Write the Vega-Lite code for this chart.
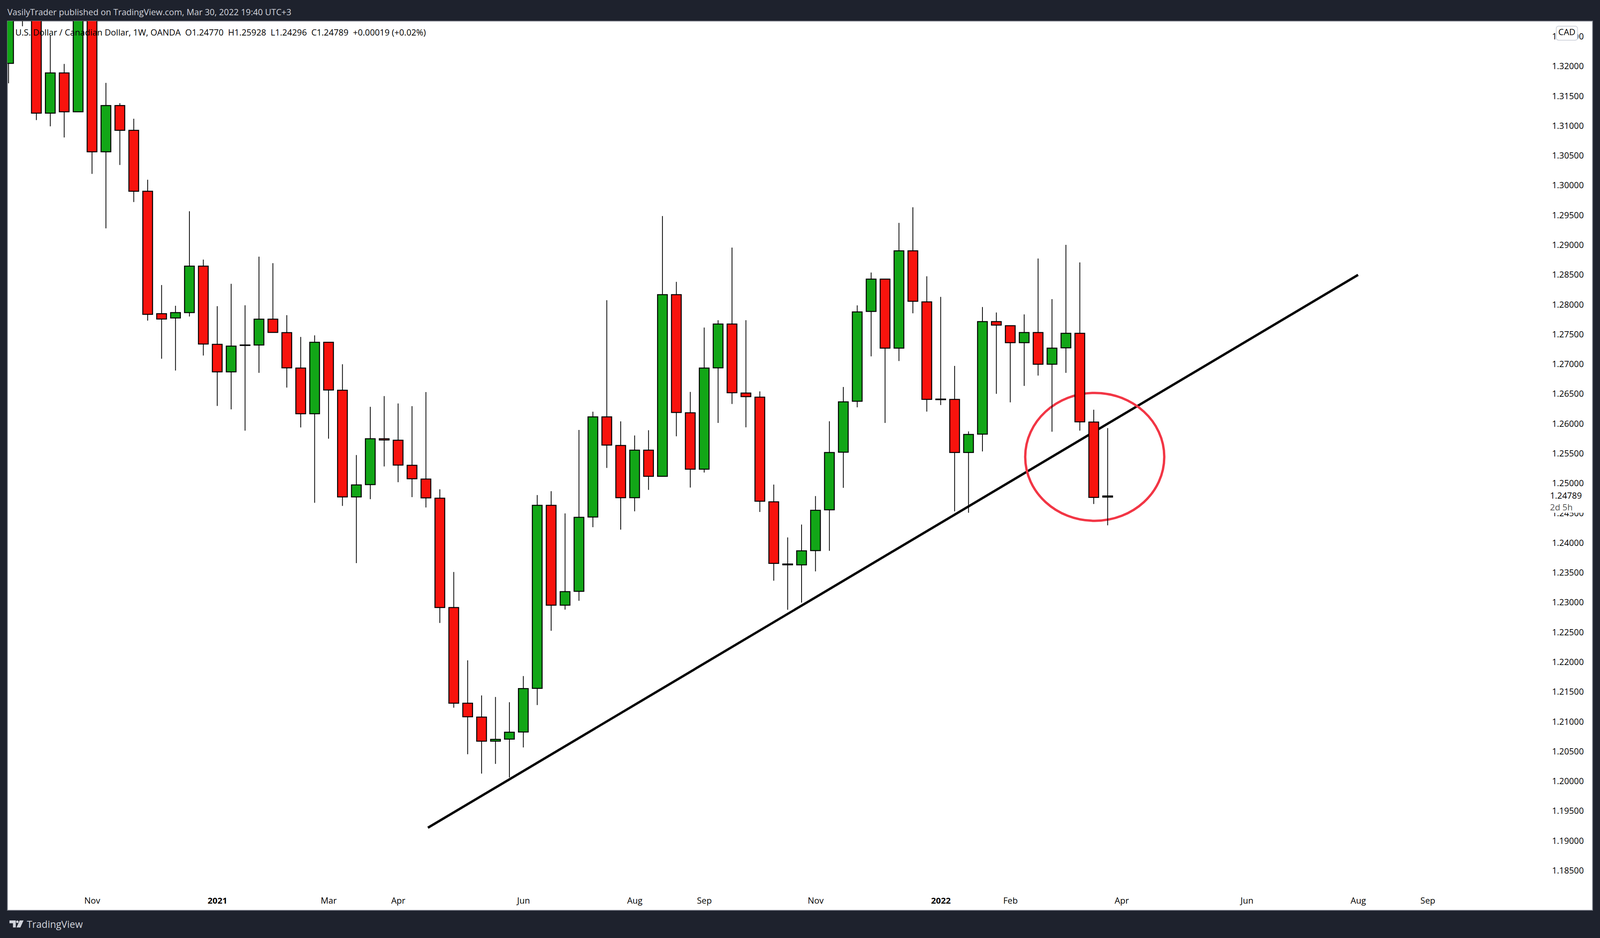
{
  "$schema": "https://vega.github.io/schema/vega-lite/v6.json",
  "description": "USD/CAD weekly candles with trend line",
  "width": 4058,
  "height": 2277,
  "autosize": "none",
  "padding": {"left": 19, "top": 54, "right": 231, "bottom": 71},
  "background": "#1e222d",
  "view": {"fill": "#ffffff", "stroke": "#7d808a", "strokeWidth": 2},
  "title": {
    "text": "VasilyTrader published on TradingView.com, Mar 30, 2022 19:40 UTC+3",
    "anchor": "start",
    "frame": "group",
    "font": "Open Sans",
    "fontSize": 22,
    "fontWeight": "normal",
    "color": "#d1d4dc",
    "offset": 10
  },
  "datasets": {
    "candles": [
      {"date": "2020-09-21", "open": 1.3205, "high": 1.336, "low": 1.31715, "close": 1.3345, "dir": "up"},
      {"date": "2020-09-28", "open": 1.3345, "high": 1.336, "low": 1.32672, "close": 1.3285, "dir": "down"},
      {"date": "2020-10-05", "open": 1.33, "high": 1.332, "low": 1.31097, "close": 1.31214, "dir": "down"},
      {"date": "2020-10-12", "open": 1.31214, "high": 1.32518, "low": 1.30993, "close": 1.31889, "dir": "up"},
      {"date": "2020-10-19", "open": 1.31889, "high": 1.3204, "low": 1.30806, "close": 1.31237, "dir": "down"},
      {"date": "2020-10-26", "open": 1.31237, "high": 1.336, "low": 1.31237, "close": 1.335, "dir": "up"},
      {"date": "2020-11-02", "open": 1.335, "high": 1.336, "low": 1.30194, "close": 1.30565, "dir": "down"},
      {"date": "2020-11-09", "open": 1.30565, "high": 1.31722, "low": 1.29281, "close": 1.31341, "dir": "up"},
      {"date": "2020-11-16", "open": 1.31341, "high": 1.31381, "low": 1.30344, "close": 1.30926, "dir": "down"},
      {"date": "2020-11-23", "open": 1.30926, "high": 1.3112, "low": 1.29722, "close": 1.29903, "dir": "down"},
      {"date": "2020-11-30", "open": 1.29903, "high": 1.30097, "low": 1.27732, "close": 1.27837, "dir": "down"},
      {"date": "2020-12-07", "open": 1.27848, "high": 1.28329, "low": 1.27092, "close": 1.27758, "dir": "down"},
      {"date": "2020-12-14", "open": 1.27776, "high": 1.27981, "low": 1.26894, "close": 1.27866, "dir": "up"},
      {"date": "2020-12-21", "open": 1.27866, "high": 1.29567, "low": 1.278, "close": 1.28647, "dir": "up"},
      {"date": "2020-12-28", "open": 1.28647, "high": 1.28756, "low": 1.27146, "close": 1.27338, "dir": "down"},
      {"date": "2021-01-04", "open": 1.27334, "high": 1.27974, "low": 1.263, "close": 1.26872, "dir": "down"},
      {"date": "2021-01-11", "open": 1.26872, "high": 1.2835, "low": 1.26243, "close": 1.27304, "dir": "up"},
      {"date": "2021-01-18", "open": 1.27323, "high": 1.27989, "low": 1.25886, "close": 1.27315, "dir": "down"},
      {"date": "2021-01-25", "open": 1.27323, "high": 1.28805, "low": 1.26856, "close": 1.27756, "dir": "up"},
      {"date": "2021-02-01", "open": 1.27756, "high": 1.28696, "low": 1.27534, "close": 1.27534, "dir": "down"},
      {"date": "2021-02-08", "open": 1.2753, "high": 1.27823, "low": 1.26608, "close": 1.26939, "dir": "down"},
      {"date": "2021-02-15", "open": 1.26935, "high": 1.27458, "low": 1.25939, "close": 1.26168, "dir": "down"},
      {"date": "2021-02-22", "open": 1.26168, "high": 1.27485, "low": 1.24674, "close": 1.27368, "dir": "up"},
      {"date": "2021-03-01", "open": 1.27368, "high": 1.27368, "low": 1.2575, "close": 1.26567, "dir": "down"},
      {"date": "2021-03-08", "open": 1.26563, "high": 1.27, "low": 1.24622, "close": 1.24772, "dir": "down"},
      {"date": "2021-03-15", "open": 1.24772, "high": 1.25476, "low": 1.23662, "close": 1.24975, "dir": "up"},
      {"date": "2021-03-22", "open": 1.24979, "high": 1.26285, "low": 1.24735, "close": 1.2575, "dir": "up"},
      {"date": "2021-03-29", "open": 1.2575, "high": 1.26465, "low": 1.25284, "close": 1.25728, "dir": "down"},
      {"date": "2021-04-05", "open": 1.25724, "high": 1.26341, "low": 1.2502, "close": 1.25307, "dir": "down"},
      {"date": "2021-04-12", "open": 1.25303, "high": 1.26296, "low": 1.24769, "close": 1.25077, "dir": "down"},
      {"date": "2021-04-19", "open": 1.25073, "high": 1.26533, "low": 1.24596, "close": 1.24757, "dir": "down"},
      {"date": "2021-04-26", "open": 1.24751, "high": 1.249, "low": 1.22657, "close": 1.22916, "dir": "down"},
      {"date": "2021-05-03", "open": 1.22916, "high": 1.23513, "low": 1.21235, "close": 1.2131, "dir": "down"},
      {"date": "2021-05-10", "open": 1.2131, "high": 1.2203, "low": 1.20454, "close": 1.21082, "dir": "down"},
      {"date": "2021-05-17", "open": 1.21077, "high": 1.21441, "low": 1.20129, "close": 1.20673, "dir": "down"},
      {"date": "2021-05-24", "open": 1.20673, "high": 1.21415, "low": 1.20292, "close": 1.20704, "dir": "up"},
      {"date": "2021-05-31", "open": 1.20708, "high": 1.21327, "low": 1.20063, "close": 1.20823, "dir": "up"},
      {"date": "2021-06-07", "open": 1.20827, "high": 1.21766, "low": 1.20568, "close": 1.21556, "dir": "up"},
      {"date": "2021-06-14", "open": 1.2156, "high": 1.24803, "low": 1.21279, "close": 1.24632, "dir": "up"},
      {"date": "2021-06-21", "open": 1.24632, "high": 1.24869, "low": 1.22526, "close": 1.22956, "dir": "down"},
      {"date": "2021-06-28", "open": 1.22956, "high": 1.24496, "low": 1.22881, "close": 1.23184, "dir": "up"},
      {"date": "2021-07-05", "open": 1.23188, "high": 1.25896, "low": 1.2303, "close": 1.2443, "dir": "up"},
      {"date": "2021-07-12", "open": 1.24435, "high": 1.26203, "low": 1.24264, "close": 1.26116, "dir": "up"},
      {"date": "2021-07-19", "open": 1.26116, "high": 1.28075, "low": 1.2526, "close": 1.25642, "dir": "down"},
      {"date": "2021-07-26", "open": 1.25637, "high": 1.26041, "low": 1.24224, "close": 1.24759, "dir": "down"},
      {"date": "2021-08-02", "open": 1.24759, "high": 1.25804, "low": 1.24531, "close": 1.25558, "dir": "up"},
      {"date": "2021-08-09", "open": 1.25558, "high": 1.25892, "low": 1.24891, "close": 1.25119, "dir": "down"},
      {"date": "2021-08-16", "open": 1.25118, "high": 1.29487, "low": 1.25118, "close": 1.28167, "dir": "up"},
      {"date": "2021-08-23", "open": 1.28167, "high": 1.28383, "low": 1.2579, "close": 1.2619, "dir": "down"},
      {"date": "2021-08-30", "open": 1.26185, "high": 1.26535, "low": 1.2493, "close": 1.25238, "dir": "down"},
      {"date": "2021-09-06", "open": 1.25238, "high": 1.27615, "low": 1.25183, "close": 1.26935, "dir": "up"},
      {"date": "2021-09-13", "open": 1.26939, "high": 1.27739, "low": 1.26015, "close": 1.27675, "dir": "up"},
      {"date": "2021-09-20", "open": 1.27675, "high": 1.28958, "low": 1.26332, "close": 1.26521, "dir": "down"},
      {"date": "2021-09-27", "open": 1.26516, "high": 1.27739, "low": 1.25941, "close": 1.26456, "dir": "down"},
      {"date": "2021-10-04", "open": 1.26447, "high": 1.26544, "low": 1.24521, "close": 1.247, "dir": "down"},
      {"date": "2021-10-11", "open": 1.24691, "high": 1.2498, "low": 1.23367, "close": 1.23656, "dir": "down"},
      {"date": "2021-10-18", "open": 1.23647, "high": 1.24093, "low": 1.22879, "close": 1.23633, "dir": "down"},
      {"date": "2021-10-25", "open": 1.23633, "high": 1.24309, "low": 1.22999, "close": 1.23868, "dir": "up"},
      {"date": "2021-11-01", "open": 1.23872, "high": 1.24787, "low": 1.23523, "close": 1.24548, "dir": "up"},
      {"date": "2021-11-08", "open": 1.24557, "high": 1.26043, "low": 1.23868, "close": 1.25518, "dir": "up"},
      {"date": "2021-11-15", "open": 1.25523, "high": 1.26617, "low": 1.24925, "close": 1.26369, "dir": "up"},
      {"date": "2021-11-22", "open": 1.26378, "high": 1.27988, "low": 1.26277, "close": 1.27877, "dir": "up"},
      {"date": "2021-11-29", "open": 1.27886, "high": 1.28539, "low": 1.27132, "close": 1.28429, "dir": "up"},
      {"date": "2021-12-06", "open": 1.28429, "high": 1.28429, "low": 1.26015, "close": 1.2727, "dir": "down"},
      {"date": "2021-12-13", "open": 1.2727, "high": 1.29372, "low": 1.27054, "close": 1.28903, "dir": "up"},
      {"date": "2021-12-20", "open": 1.28903, "high": 1.29634, "low": 1.27854, "close": 1.28057, "dir": "down"},
      {"date": "2021-12-27", "open": 1.28047, "high": 1.28475, "low": 1.26204, "close": 1.2641, "dir": "down"},
      {"date": "2022-01-03", "open": 1.26415, "high": 1.2813, "low": 1.26314, "close": 1.26405, "dir": "down"},
      {"date": "2022-01-10", "open": 1.2641, "high": 1.26971, "low": 1.2453, "close": 1.25518, "dir": "down"},
      {"date": "2022-01-17", "open": 1.25518, "high": 1.25872, "low": 1.24507, "close": 1.25822, "dir": "up"},
      {"date": "2022-01-24", "open": 1.25827, "high": 1.2796, "low": 1.25537, "close": 1.27716, "dir": "up"},
      {"date": "2022-01-31", "open": 1.27716, "high": 1.27868, "low": 1.26503, "close": 1.27657, "dir": "down"},
      {"date": "2022-02-07", "open": 1.27647, "high": 1.27647, "low": 1.2636, "close": 1.27362, "dir": "down"},
      {"date": "2022-02-14", "open": 1.27362, "high": 1.27836, "low": 1.26636, "close": 1.27532, "dir": "up"},
      {"date": "2022-02-21", "open": 1.27532, "high": 1.28774, "low": 1.2681, "close": 1.26999, "dir": "down"},
      {"date": "2022-02-28", "open": 1.26999, "high": 1.28093, "low": 1.25868, "close": 1.2727, "dir": "up"},
      {"date": "2022-03-07", "open": 1.27275, "high": 1.29004, "low": 1.26856, "close": 1.27519, "dir": "up"},
      {"date": "2022-03-14", "open": 1.27519, "high": 1.28709, "low": 1.25886, "close": 1.26033, "dir": "down"},
      {"date": "2022-03-21", "open": 1.26029, "high": 1.26236, "low": 1.24654, "close": 1.24764, "dir": "down"},
      {"date": "2022-03-28", "open": 1.2477, "high": 1.25928, "low": 1.24296, "close": 1.24789, "dir": "up"}
    ]
  },
  "layer": [
    {
      "data": {"values": [
        {"date": "2021-04-20T00:00:00Z", "price": 1.1922},
        {"date": "2022-08-01T00:00:00Z", "price": 1.285}
      ]},
      "mark": {"type": "line", "color": "#000000", "strokeWidth": 6, "clip": true},
      "encoding": {
        "x": {
          "field": "date",
          "type": "temporal",
          "scale": {"type": "utc", "domain": ["2020-09-21T10:00:00Z", "2022-11-26T00:00:00Z"]},
          "axis": {
            "orient": "bottom",
            "title": null,
            "values": ["2020-11-02T00:00:00Z", "2021-01-04T00:00:00Z", "2021-03-01T00:00:00Z", "2021-04-05T00:00:00Z", "2021-06-07T00:00:00Z", "2021-08-02T00:00:00Z", "2021-09-06T00:00:00Z", "2021-11-01T00:00:00Z", "2022-01-03T00:00:00Z", "2022-02-07T00:00:00Z", "2022-04-04T00:00:00Z", "2022-06-06T00:00:00Z", "2022-08-01T00:00:00Z", "2022-09-05T00:00:00Z"],
            "labelExpr": "utcFormat(datum.value, utcmonth(datum.value) == 0 ? '%Y' : '%b')",
            "labelFontWeight": {"condition": {"test": "utcmonth(datum.value) == 0", "value": "bold"}, "value": "normal"},
            "labelFont": "Open Sans",
            "labelFontSize": 22,
            "labelColor": "#000000",
            "labelBaseline": "middle",
            "labelPadding": 0,
            "offset": -25,
            "domain": false,
            "ticks": false,
            "grid": false,
            "labelOverlap": false,
            "labelFlush": false
          }
        },
        "y": {
          "field": "price",
          "type": "quantitative",
          "scale": {"domain": [1.17835, 1.32759], "zero": false, "nice": false},
          "axis": {
            "orient": "right",
            "title": null,
            "values": [1.185, 1.19, 1.195, 1.2, 1.205, 1.21, 1.215, 1.22, 1.225, 1.23, 1.235, 1.24, 1.245, 1.25, 1.255, 1.26, 1.265, 1.27, 1.275, 1.28, 1.285, 1.29, 1.295, 1.3, 1.305, 1.31, 1.315, 1.32, 1.325],
            "format": ".5f",
            "labelFont": "Open Sans",
            "labelFontSize": 22,
            "labelColor": "#000000",
            "labelAlign": "right",
            "labelBaseline": "middle",
            "labelPadding": 0,
            "offset": -23,
            "domain": false,
            "ticks": false,
            "grid": false,
            "labelOverlap": false,
            "labelFlush": false
          }
        }
      }
    },
    {
      "data": {"values": [{"date": "2022-03-21T12:00:00Z", "price": 1.25445}]},
      "mark": {
        "type": "point",
        "shape": "M-1,0 A1,0.92 0 1,1 1,0 A1,0.92 0 1,1 -1,0 Z",
        "size": 126736,
        "filled": false,
        "stroke": "#f23645",
        "strokeWidth": 6,
        "opacity": 1
      },
      "encoding": {
        "x": {"field": "date", "type": "temporal"},
        "y": {"field": "price", "type": "quantitative"}
      }
    },
    {
      "data": {"name": "candles"},
      "mark": {"type": "rule", "color": "#000000", "strokeWidth": 2, "clip": true},
      "encoding": {
        "x": {"field": "date", "type": "temporal"},
        "y": {"field": "low", "type": "quantitative"},
        "y2": {"field": "high"}
      }
    },
    {
      "data": {"name": "candles"},
      "mark": {"type": "bar", "size": 25, "stroke": "#000000", "strokeWidth": 2.5, "clip": true},
      "encoding": {
        "x": {"field": "date", "type": "temporal"},
        "y": {"field": "open", "type": "quantitative"},
        "y2": {"field": "close"},
        "color": {
          "field": "dir",
          "type": "nominal",
          "scale": {"domain": ["up", "down"], "range": ["#12a617", "#f8130d"]},
          "legend": null
        }
      }
    },
    {
      "data": {"values": [
        {"date": "2022-11-05T14:00:00Z", "date2": "2022-11-22T17:00:00Z", "price": 1.24868, "price2": 1.24507}
      ]},
      "mark": {"type": "bar", "color": "#ffffff"},
      "encoding": {
        "x": {"field": "date", "type": "temporal"},
        "x2": {"field": "date2"},
        "y": {"field": "price", "type": "quantitative"},
        "y2": {"field": "price2"}
      }
    },
    {
      "data": {"values": [
        {"date": "2022-11-08T17:00:00Z", "date2": "2022-11-19T10:00:00Z", "price": 1.32674, "price2": 1.32438}
      ]},
      "mark": {"type": "bar", "color": "#ffffff", "stroke": "#d1d4dc", "strokeWidth": 2, "cornerRadius": 6},
      "encoding": {
        "x": {"field": "date", "type": "temporal"},
        "x2": {"field": "date2"},
        "y": {"field": "price", "type": "quantitative"},
        "y2": {"field": "price2"}
      }
    },
    {
      "data": {"values": [{"date": "2022-11-14T01:00:00Z", "price": 1.32569, "label": "CAD"}]},
      "mark": {"type": "text", "font": "Open Sans", "fontSize": 22, "color": "#000000", "align": "center", "baseline": "middle"},
      "encoding": {
        "x": {"field": "date", "type": "temporal"},
        "y": {"field": "price", "type": "quantitative"},
        "text": {"field": "label"}
      }
    },
    {
      "data": {"values": [{"date": "2022-11-21T14:00:00Z", "price": 1.24789, "label": "1.24789"}]},
      "mark": {"type": "text", "font": "Open Sans", "fontSize": 22, "color": "#000000", "align": "right", "baseline": "middle"},
      "encoding": {
        "x": {"field": "date", "type": "temporal"},
        "y": {"field": "price", "type": "quantitative"},
        "text": {"field": "label"}
      }
    },
    {
      "data": {"values": [{"date": "2022-11-05T14:00:00Z", "price": 1.24593, "label": "2d 5h"}]},
      "mark": {"type": "text", "font": "Open Sans", "fontSize": 22, "color": "#555555", "align": "left", "baseline": "middle"},
      "encoding": {
        "x": {"field": "date", "type": "temporal"},
        "y": {"field": "price", "type": "quantitative"},
        "text": {"field": "label"}
      }
    },
    {
      "data": {"values": [{"date": "2020-09-24T10:00:00Z", "price": 1.32563, "label": "U.S. Dollar / Canadian Dollar, 1W, OANDA\u00a0\u00a0O1.24770\u00a0\u00a0H1.25928\u00a0\u00a0L1.24296\u00a0\u00a0C1.24789\u00a0\u00a0+0.00019 (+0.02%)"}]},
      "mark": {"type": "text", "font": "Open Sans", "fontSize": 22, "color": "#000000", "align": "left", "baseline": "middle"},
      "encoding": {
        "x": {"field": "date", "type": "temporal"},
        "y": {"field": "price", "type": "quantitative"},
        "text": {"field": "label"}
      }
    },
    {
      "data": {"values": [{"date": "2020-09-30T05:00:00Z", "price": 1.17593, "label": "TradingView"}]},
      "mark": {"type": "text", "font": "Open Sans", "fontSize": 25, "color": "#d1d4dc", "align": "left", "baseline": "middle"},
      "encoding": {
        "x": {"field": "date", "type": "temporal"},
        "y": {"field": "price", "type": "quantitative"},
        "text": {"field": "label"}
      }
    },
    {
      "data": {"values": [{"date": "2020-09-25T00:00:00Z", "price": 1.17606}]},
      "mark": {
        "type": "point",
        "shape": "M-1,-0.5 H-0.1 V0.5 H-0.5 V-0.1 H-1 Z M0.3,-0.3 A0.18,0.18 0 1,1 -0.06,-0.3 A0.18,0.18 0 1,1 0.3,-0.3 Z M0.45,-0.5 H1 L0.55,0.5 H0 Z",
        "size": 1300,
        "filled": true,
        "color": "#d1d4dc",
        "opacity": 1
      },
      "encoding": {
        "x": {"field": "date", "type": "temporal"},
        "y": {"field": "price", "type": "quantitative"}
      }
    }
  ]
}
